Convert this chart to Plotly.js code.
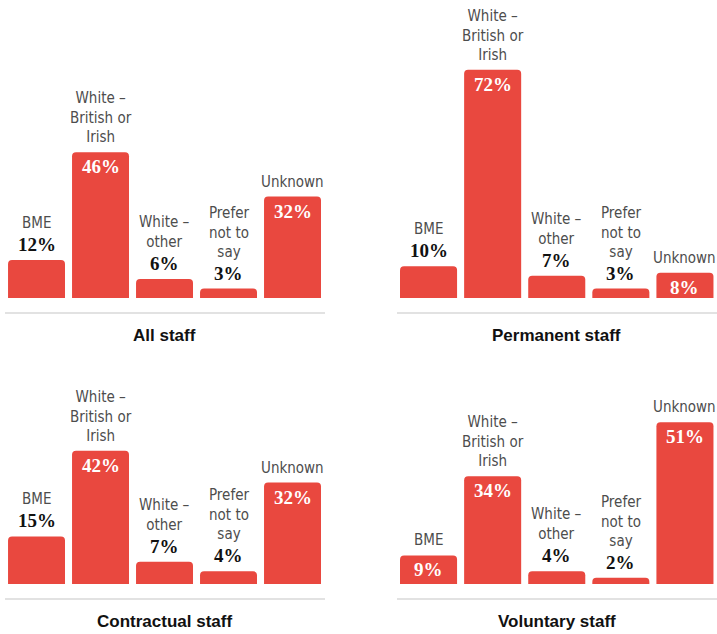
<!DOCTYPE html>
<html>
<head>
<meta charset="utf-8">
<script src="https://cdn.plot.ly/plotly-3.0.1.min.js"></script>
<style>
  html, body { margin: 0; padding: 0; background: #ffffff; }
  #chart { width: 717px; height: 634px; }
</style>
</head>
<body>
<div id="chart"></div>
<script>
// ---- data ----
const categories = ["BME", "White –<br>British or<br>Irish", "White –<br>other", "Prefer<br>not to<br>say", "Unknown"];
const panelTitles = ["All staff", "Permanent staff", "Contractual staff", "Voluntary staff"];
const allStaff = [12, 46, 6, 3, 32];
const permanentStaff = [10, 72, 7, 3, 8];
const contractualStaff = [15, 42, 7, 4, 32];
const voluntaryStaff = [9, 34, 4, 2, 51];
// where the value label sits: inside the bar (white) or above it (black)
const allStaffLabelPos = ["out", "in", "out", "out", "in"];
const permanentLabelPos = ["out", "in", "out", "out", "in"];
const contractualLabelPos = ["out", "in", "out", "out", "in"];
const voluntaryLabelPos = ["in", "in", "out", "out", "in"];

// ---- style ----
const BAR_COLOR = "#e9483f";
const CAT_COLOR = "#4d4d4d";
const VALUE_FONT = "Liberation Serif, DejaVu Serif, serif";
const CAT_FONT = "Liberation Sans Narrow, DejaVu Sans Condensed, Roboto, sans-serif";
const TITLE_FONT = "Liberation Sans, Arial, sans-serif";

const panels = [
  { values: allStaff, pos: allStaffLabelPos, xa: "x", ya: "y", xd: [0.0063, 0.4526], yd: [0.5079, 1.0] },
  { values: permanentStaff, pos: permanentLabelPos, xa: "x2", ya: "y2", xd: [0.5530, 1.0], yd: [0.5079, 1.0] },
  { values: contractualStaff, pos: contractualLabelPos, xa: "x3", ya: "y3", xd: [0.0063, 0.4526], yd: [0.0568, 0.5489] },
  { values: voluntaryStaff, pos: voluntaryLabelPos, xa: "x4", ya: "y4", xd: [0.5530, 1.0], yd: [0.0568, 0.5489] }
];

const xIdx = categories.map((_, i) => i);
const traces = [];
const annotations = [];
const layout = {
  width: 717, height: 634,
  margin: { l: 0, r: 0, t: 0, b: 0 },
  paper_bgcolor: "#ffffff", plot_bgcolor: "rgba(0,0,0,0)",
  showlegend: false,
  bargap: 0.11,
  annotations: annotations
};

panels.forEach((p, k) => {
  traces.push({
    type: "bar",
    x: xIdx,
    y: p.values,
    xaxis: p.xa, yaxis: p.ya,
    marker: { color: BAR_COLOR, cornerradius: 4 },
    hoverinfo: "none"
  });
  const xName = "xaxis" + (k === 0 ? "" : k + 1);
  const yName = "yaxis" + (k === 0 ? "" : k + 1);
  layout[xName] = {
    domain: p.xd, anchor: p.ya, range: [-0.5, 4.5],
    showgrid: false, zeroline: false, showticklabels: false, ticks: "",
    showline: true, linecolor: "#e2e2e2", linewidth: 2, fixedrange: true
  };
  layout[yName] = {
    domain: p.yd, anchor: p.xa, range: [-4.4, 94],
    showgrid: false, zeroline: false, showticklabels: false, ticks: "",
    showline: false, fixedrange: true
  };
  p.values.forEach((v, i) => {
    const inside = p.pos[i] === "in";
    annotations.push({
      xref: p.xa, yref: p.ya, x: i, y: v,
      text: "<b>" + v + "%</b>",
      showarrow: false,
      yanchor: inside ? "top" : "bottom",
      yshift: inside ? -2 : 3,
      font: { family: VALUE_FONT, size: 19, color: inside ? "#ffffff" : "#111111" }
    });
    annotations.push({
      xref: p.xa, yref: p.ya, x: i, y: v,
      text: categories[i],
      showarrow: false,
      yanchor: "bottom",
      yshift: inside ? 4 : 26,
      font: { family: CAT_FONT, size: 15, color: CAT_COLOR }
    });
  });
  annotations.push({
    xref: p.xa + " domain", yref: p.ya + " domain", x: 0.5, y: 0,
    text: "<b>" + panelTitles[k] + "</b>",
    showarrow: false, yanchor: "middle", yshift: -24,
    font: { family: TITLE_FONT, size: 17, color: "#111111" }
  });
});

Plotly.newPlot("chart", traces, layout, { displayModeBar: false, staticPlot: true });
</script>
</body>
</html>
